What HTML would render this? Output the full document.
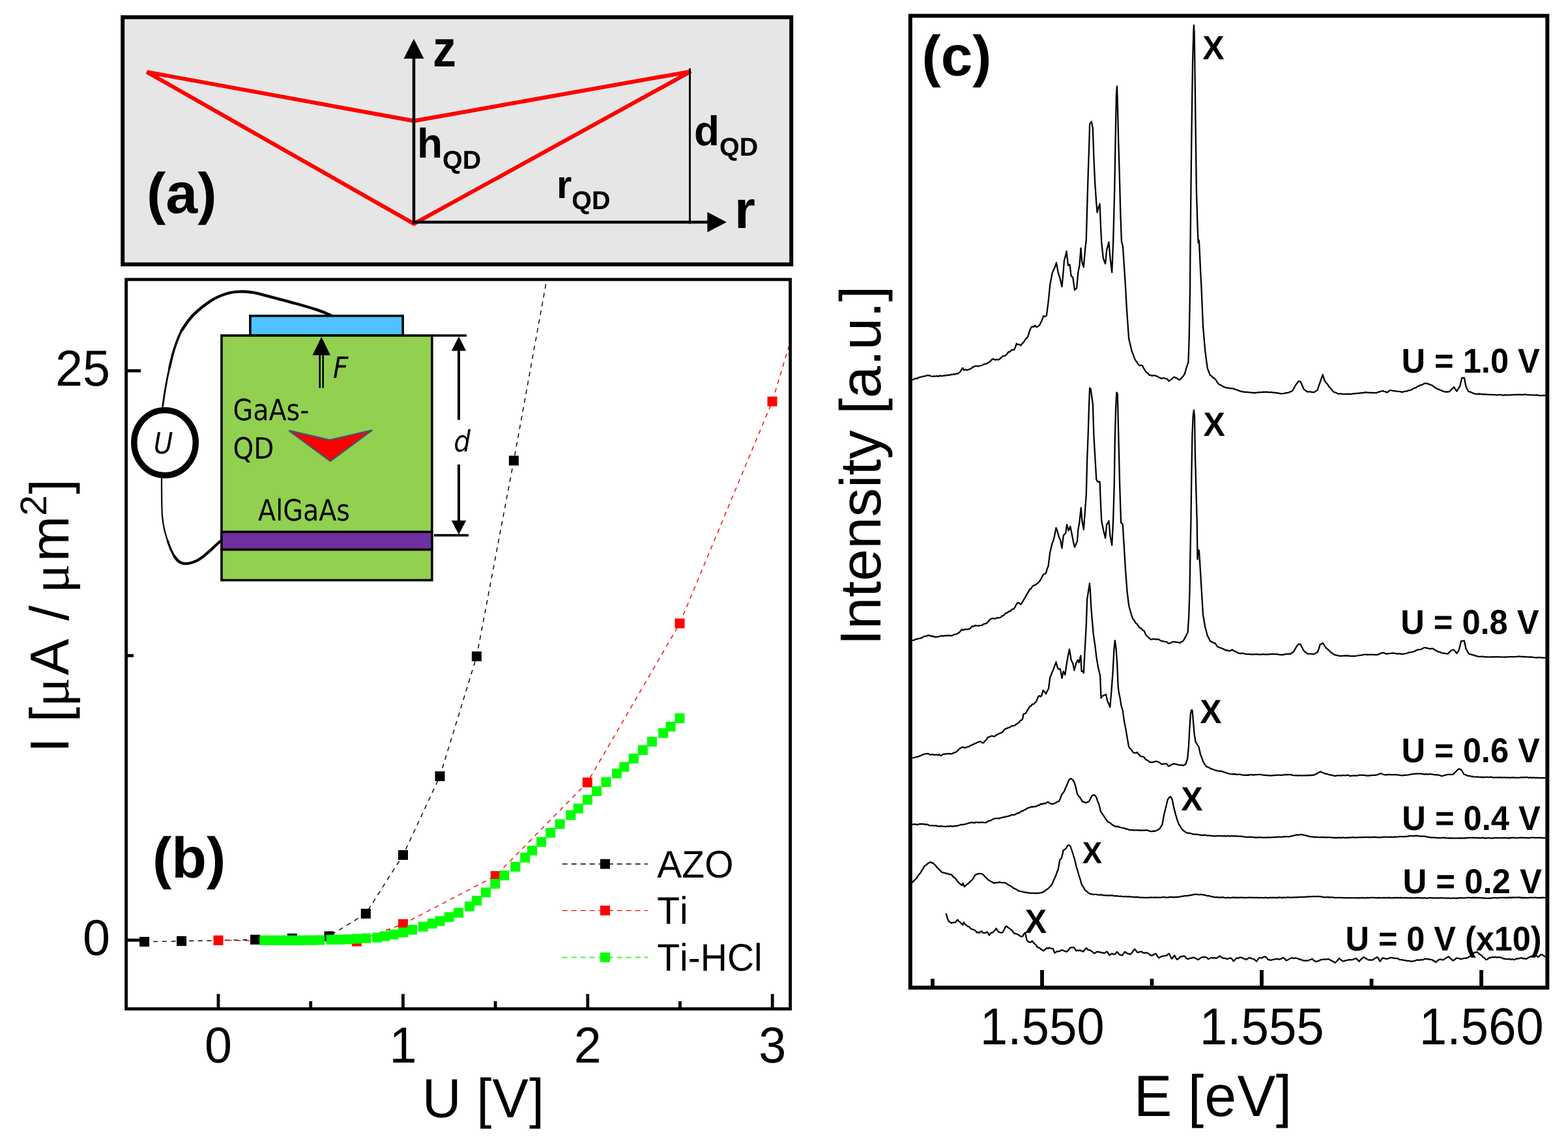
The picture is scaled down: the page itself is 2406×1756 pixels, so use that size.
<!DOCTYPE html>
<html lang="en">
<head>
<meta charset="utf-8">
<title>Figure: QD geometry, I-U characteristics and PL spectra</title>
<style>
html,body{margin:0;padding:0;background:#ffffff;}
body{width:2406px;height:1756px;overflow:hidden;}
svg{display:block;}
text{font-family:'Liberation Sans', sans-serif;fill:#000;font-kerning:none;text-rendering:geometricPrecision;}
.b{font-weight:bold;}
.i{font-style:italic;}
.cal{font-family:'DejaVu Sans Condensed', 'DejaVu Sans', 'Liberation Sans', sans-serif;}
.sp{fill:none;stroke:#000;stroke-width:2.3;stroke-linejoin:round;stroke-linecap:round;}
</style>
</head>
<body>
<svg width="2406" height="1756" viewBox="0 0 2406 1756">
<rect x="0" y="0" width="2406" height="1756" fill="#ffffff"/>
<g id="panel-a">
<rect x="188.2" y="26.4" width="1026" height="379.4" fill="#e6e6e6" stroke="#000" stroke-width="6"/>
<path d="M225.4 110.5 L635.2 185.6 L1060 109.7 L635.2 343.5 Z" fill="none" stroke="#ff0000" stroke-width="6.1" stroke-linejoin="miter"/>
<line x1="635" y1="343" x2="635" y2="88" stroke="#000" stroke-width="4.5"/>
<polygon points="635,59.5 619.5,90 650.5,90" fill="#000"/>
<line x1="633" y1="341" x2="1088" y2="341" stroke="#000" stroke-width="4.5"/>
<polygon points="1115,341 1085.4,325.4 1085.4,356.4" fill="#000"/>
<line x1="1058.5" y1="105" x2="1058.5" y2="343.5" stroke="#000" stroke-width="3"/>
<text class="b" x="664" y="101.5" font-size="79" textLength="36" lengthAdjust="spacingAndGlyphs">z</text>
<text class="b" x="1127" y="349.5" font-size="82">r</text>
<text class="b" x="225" y="327.3" font-size="88">(a)</text>
<text class="b" x="640" y="242.3" font-size="64">h<tspan font-size="39.5" dy="16.5">QD</tspan></text>
<text class="b" x="1065" y="222.5" font-size="64">d<tspan font-size="39.5" dy="16.5">QD</tspan></text>
<text class="b" x="854" y="304.4" font-size="60">r<tspan font-size="39.5" dy="16.5">QD</tspan></text>
</g>
<g id="panel-b">
<defs><clipPath id="clipb"><rect x="196" y="431.4" width="1014.3" height="1114.8"/></clipPath></defs>
<g clip-path="url(#clipb)" fill="none" stroke-width="1.45">
<path d="M221.6 1445.5 L278.6 1444.5 L335.0 1443.5 L391.5 1442.3 L448.3 1440.5 L505.0 1437.0 L561.3 1402.4 L618.5 1312.4 L675.0 1191.5 L731.4 1007.5 L788.4 707.0 L845.0 395.7" stroke="#000" stroke-dasharray="7 6.7"/>
<path d="M335.0 1443.4 L547.4 1445.0 L618.5 1418.4 L760.2 1344.6 L901.3 1201.0 L1043.0 956.9 L1185.0 616.2 L1326.0 148.0" stroke="#ff0000" stroke-dasharray="7 6.7"/>
</g>
<rect x="214.1" y="1438.0" width="15.0" height="15.0" fill="#000"/>
<rect x="271.1" y="1437.0" width="15.0" height="15.0" fill="#000"/>
<rect x="384.0" y="1434.8" width="15.0" height="15.0" fill="#000"/>
<rect x="440.8" y="1433.0" width="15.0" height="15.0" fill="#000"/>
<rect x="497.5" y="1429.5" width="15.0" height="15.0" fill="#000"/>
<rect x="553.8" y="1394.9" width="15.0" height="15.0" fill="#000"/>
<rect x="611.0" y="1304.9" width="15.0" height="15.0" fill="#000"/>
<rect x="667.5" y="1184.0" width="15.0" height="15.0" fill="#000"/>
<rect x="723.9" y="1000.0" width="15.0" height="15.0" fill="#000"/>
<rect x="780.9" y="699.5" width="15.0" height="15.0" fill="#000"/>
<rect x="327.5" y="1435.9" width="15.0" height="15.0" fill="#ff0000"/>
<rect x="539.9" y="1437.5" width="15.0" height="15.0" fill="#ff0000"/>
<rect x="611.0" y="1410.9" width="15.0" height="15.0" fill="#ff0000"/>
<rect x="752.7" y="1337.1" width="15.0" height="15.0" fill="#ff0000"/>
<rect x="893.8" y="1193.5" width="15.0" height="15.0" fill="#ff0000"/>
<rect x="1035.5" y="949.4" width="15.0" height="15.0" fill="#ff0000"/>
<rect x="1177.5" y="608.7" width="15.0" height="15.0" fill="#ff0000"/>
<rect x="398.3" y="1435.8" width="15.0" height="15.0" fill="#00ff00"/>
<rect x="412.5" y="1435.8" width="15.0" height="15.0" fill="#00ff00"/>
<rect x="426.7" y="1435.8" width="15.0" height="15.0" fill="#00ff00"/>
<rect x="440.8" y="1435.8" width="15.0" height="15.0" fill="#00ff00"/>
<rect x="455.0" y="1435.8" width="15.0" height="15.0" fill="#00ff00"/>
<rect x="469.2" y="1435.7" width="15.0" height="15.0" fill="#00ff00"/>
<rect x="483.3" y="1435.5" width="15.0" height="15.0" fill="#00ff00"/>
<rect x="500.5" y="1434.8" width="15.0" height="15.0" fill="#00ff00"/>
<rect x="513.8" y="1434.8" width="15.0" height="15.0" fill="#00ff00"/>
<rect x="527.1" y="1434.3" width="15.0" height="15.0" fill="#00ff00"/>
<rect x="540.4" y="1433.5" width="15.0" height="15.0" fill="#00ff00"/>
<rect x="554.3" y="1432.7" width="15.0" height="15.0" fill="#00ff00"/>
<rect x="571.1" y="1431.6" width="15.0" height="15.0" fill="#00ff00"/>
<rect x="583.0" y="1429.5" width="15.0" height="15.0" fill="#00ff00"/>
<rect x="596.4" y="1426.9" width="15.0" height="15.0" fill="#00ff00"/>
<rect x="611.0" y="1423.7" width="15.0" height="15.0" fill="#00ff00"/>
<rect x="625.1" y="1419.7" width="15.0" height="15.0" fill="#00ff00"/>
<rect x="641.6" y="1414.9" width="15.0" height="15.0" fill="#00ff00"/>
<rect x="655.7" y="1410.3" width="15.0" height="15.0" fill="#00ff00"/>
<rect x="667.5" y="1406.3" width="15.0" height="15.0" fill="#00ff00"/>
<rect x="681.6" y="1400.2" width="15.0" height="15.0" fill="#00ff00"/>
<rect x="696.2" y="1393.6" width="15.0" height="15.0" fill="#00ff00"/>
<rect x="713.0" y="1383.7" width="15.0" height="15.0" fill="#00ff00"/>
<rect x="724.2" y="1374.9" width="15.0" height="15.0" fill="#00ff00"/>
<rect x="738.0" y="1362.4" width="15.0" height="15.0" fill="#00ff00"/>
<rect x="752.2" y="1349.1" width="15.0" height="15.0" fill="#00ff00"/>
<rect x="766.3" y="1336.3" width="15.0" height="15.0" fill="#00ff00"/>
<rect x="783.3" y="1323.0" width="15.0" height="15.0" fill="#00ff00"/>
<rect x="798.2" y="1308.9" width="15.0" height="15.0" fill="#00ff00"/>
<rect x="809.0" y="1298.2" width="15.0" height="15.0" fill="#00ff00"/>
<rect x="823.1" y="1284.9" width="15.0" height="15.0" fill="#00ff00"/>
<rect x="837.2" y="1270.8" width="15.0" height="15.0" fill="#00ff00"/>
<rect x="851.6" y="1257.5" width="15.0" height="15.0" fill="#00ff00"/>
<rect x="868.4" y="1243.6" width="15.0" height="15.0" fill="#00ff00"/>
<rect x="879.9" y="1233.5" width="15.0" height="15.0" fill="#00ff00"/>
<rect x="894.0" y="1220.2" width="15.0" height="15.0" fill="#00ff00"/>
<rect x="908.1" y="1206.9" width="15.0" height="15.0" fill="#00ff00"/>
<rect x="922.5" y="1193.0" width="15.0" height="15.0" fill="#00ff00"/>
<rect x="939.0" y="1179.7" width="15.0" height="15.0" fill="#00ff00"/>
<rect x="950.4" y="1169.6" width="15.0" height="15.0" fill="#00ff00"/>
<rect x="964.8" y="1156.8" width="15.0" height="15.0" fill="#00ff00"/>
<rect x="978.9" y="1143.8" width="15.0" height="15.0" fill="#00ff00"/>
<rect x="993.0" y="1131.0" width="15.0" height="15.0" fill="#00ff00"/>
<rect x="1010.1" y="1117.7" width="15.0" height="15.0" fill="#00ff00"/>
<rect x="1021.5" y="1107.8" width="15.0" height="15.0" fill="#00ff00"/>
<rect x="1035.4" y="1095.0" width="15.0" height="15.0" fill="#00ff00"/>
<rect x="193.6" y="429" width="1019" height="1119.6" fill="none" stroke="#000" stroke-width="4.8"/>
<line x1="335.0" y1="1547" x2="335.0" y2="1525.7" stroke="#000" stroke-width="4.8"/>
<line x1="618.4" y1="1547" x2="618.4" y2="1525.7" stroke="#000" stroke-width="4.8"/>
<line x1="901.8" y1="1547" x2="901.8" y2="1525.7" stroke="#000" stroke-width="4.8"/>
<line x1="1185.2" y1="1547" x2="1185.2" y2="1525.7" stroke="#000" stroke-width="4.8"/>
<line x1="476.7" y1="1547" x2="476.7" y2="1536.8" stroke="#000" stroke-width="4.8"/>
<line x1="760.1" y1="1547" x2="760.1" y2="1536.8" stroke="#000" stroke-width="4.8"/>
<line x1="1043.5" y1="1547" x2="1043.5" y2="1536.8" stroke="#000" stroke-width="4.8"/>
<line x1="195" y1="569.1" x2="216" y2="569.1" stroke="#000" stroke-width="4.8"/>
<line x1="195" y1="1443.1" x2="216" y2="1443.1" stroke="#000" stroke-width="4.8"/>
<line x1="195" y1="1006.3" x2="205" y2="1006.3" stroke="#000" stroke-width="4.8"/>
<text transform="translate(335.00 1630.60) scale(1 1.0300)" font-size="75.5" text-anchor="middle">0</text>
<text transform="translate(618.40 1630.60) scale(1 1.0300)" font-size="75.5" text-anchor="middle">1</text>
<text transform="translate(901.80 1630.60) scale(1 1.0300)" font-size="75.5" text-anchor="middle">2</text>
<text transform="translate(1185.20 1630.60) scale(1 1.0300)" font-size="75.5" text-anchor="middle">3</text>
<text transform="translate(168.90 592.30) scale(1 1.0300)" font-size="75.5" text-anchor="end">25</text>
<text transform="translate(168.90 1466.10) scale(1 1.0300)" font-size="75.5" text-anchor="end">0</text>
<text transform="translate(0 1714.8) scale(1 1.02)" x="647.7 707.6 731.2 755.6 811.9" y="0" font-size="83">U [V]</text>
<text transform="translate(105.2 1155.2) rotate(-90)" font-size="84" x="0 23.4 46.7 70.2 118.6 174.6 202.5 225.9 244.8 293.2 363.4 396.7" y="0">I [<tspan style="font-family:'Liberation Serif', 'DejaVu Serif', serif">μ</tspan>A / <tspan style="font-family:'Liberation Serif', 'DejaVu Serif', serif">μ</tspan>m<tspan dy="-33.8" font-size="57">2</tspan><tspan dy="33.8">]</tspan></text>
<text class="b" x="234" y="1346.5" font-size="88">(b)</text>
<line x1="862.7" y1="1326.2" x2="994" y2="1326.2" stroke="#000" stroke-width="1.45" stroke-dasharray="8 6"/>
<rect x="921.0" y="1318.7" width="15.0" height="15.0" fill="#000"/>
<text transform="translate(1008.30 1346.50) scale(1 1.0350)" font-size="57">AZO</text>
<line x1="862.7" y1="1397.6" x2="994" y2="1397.6" stroke="#ff0000" stroke-width="1.45" stroke-dasharray="8 6"/>
<rect x="921.0" y="1390.1" width="15.0" height="15.0" fill="#ff0000"/>
<text transform="translate(1008.30 1417.90) scale(1 1.0350)" font-size="57">Ti</text>
<line x1="862.7" y1="1469.5" x2="994" y2="1469.5" stroke="#00ff00" stroke-width="1.45" stroke-dasharray="8 6"/>
<rect x="921.0" y="1462.0" width="15.0" height="15.0" fill="#00ff00"/>
<text transform="translate(1008.30 1489.80) scale(1 1.0350)" font-size="57">Ti-HCl</text>
<g id="inset">
<path d="M249.0 628.0 C249.8 622.4 252.3 604.8 254.1 594.3 C255.9 583.8 257.7 575.0 259.9 565.3 C262.1 555.6 266.0 541.1 267.2 536.2" fill="none" stroke="#000" stroke-width="2.8" stroke-linecap="round"/>
<path d="M259.9 565.3 C261.1 560.4 264.0 545.9 267.2 536.2 C270.4 526.5 274.0 515.9 278.8 507.2 C283.6 498.5 293.3 487.8 296.2 483.9" fill="none" stroke="#000" stroke-width="3.6" stroke-linecap="round"/>
<path d="M278.8 507.2 C281.7 503.3 288.4 491.6 296.2 483.9 C303.9 476.1 316.6 466.3 325.3 460.7 C334.0 455.1 341.2 452.7 348.5 450.5 C355.8 448.3 362.1 447.8 368.9 447.6 C375.7 447.4 381.9 447.9 389.2 449.1 C396.4 450.3 401.3 452.0 412.4 454.9 C423.5 457.8 443.9 463.1 456.0 466.5 C468.1 469.9 476.6 472.4 485.1 475.2 C493.6 478.0 503.3 482.1 506.9 483.5" fill="none" stroke="#000" stroke-width="4.4" stroke-linecap="round"/>
<path d="M248.0 730.0 C248.0 735.0 247.9 749.9 248.1 760.0 C248.2 770.1 248.2 782.1 248.9 790.8 C249.6 799.5 250.6 805.5 252.0 812.0 C253.4 818.5 255.5 824.9 257.2 830.1 C258.9 835.3 261.2 840.9 262.0 843.0" fill="none" stroke="#000" stroke-width="2.2" stroke-linecap="round"/>
<path d="M257.2 830.1 C258.0 832.2 260.2 839.0 262.0 843.0 C263.8 847.0 265.8 851.2 267.8 854.3 C269.8 857.4 273.0 860.3 274.0 861.5" fill="none" stroke="#000" stroke-width="3.2" stroke-linecap="round"/>
<path d="M267.8 854.3 C268.8 855.5 271.7 859.7 274.0 861.5 C276.3 863.3 278.6 864.4 281.4 864.9 C284.2 865.4 287.5 865.2 291.0 864.5 C294.5 863.8 299.1 862.1 302.6 860.4 C306.1 858.6 309.0 856.3 312.0 854.0 C315.0 851.7 317.7 849.4 320.7 846.7 C323.7 844.0 326.8 841.0 330.0 838.0 C333.2 835.0 338.3 830.5 340.0 829.0" fill="none" stroke="#000" stroke-width="4.3" stroke-linecap="round"/>
<ellipse cx="253" cy="679.6" rx="47.3" ry="50" fill="#fff" stroke="#000" stroke-width="9.4"/>
<text class="cal i" x="250.5" y="695.5" font-size="45" text-anchor="middle">U</text>
<rect x="383.9" y="484.8" width="234.2" height="30" fill="#4fc3ff" stroke="#000" stroke-width="3.6"/>
<rect x="340" y="515" width="322.8" height="375.6" fill="#92d050" stroke="#000" stroke-width="3.6"/>
<rect x="340" y="816.4" width="322.8" height="27.2" fill="#7030a0" stroke="#000" stroke-width="3.6"/>
<polygon points="493.2,517 479.4,545.2 507,545.2" fill="#000"/>
<line x1="490.7" y1="544" x2="490.7" y2="595.7" stroke="#000" stroke-width="2.6"/>
<line x1="495.7" y1="544" x2="495.7" y2="595.7" stroke="#000" stroke-width="2.6"/>
<text class="cal i" x="511" y="579.5" font-size="45">F</text>
<polygon points="443.5,661 506,675.5 571,660.3 506.8,707.8" fill="#ff0000" stroke="#44546a" stroke-width="2.4" stroke-linejoin="miter"/>
<text class="cal" x="357.5" y="645" font-size="45" textLength="117" lengthAdjust="spacingAndGlyphs">GaAs-</text>
<text class="cal" x="357.5" y="703.5" font-size="45" textLength="63" lengthAdjust="spacingAndGlyphs">QD</text>
<text class="cal" x="396" y="798.5" font-size="45" textLength="141" lengthAdjust="spacingAndGlyphs">AlGaAs</text>
<line x1="662" y1="515" x2="716" y2="515" stroke="#000" stroke-width="3.6"/>
<line x1="666" y1="821.6" x2="719" y2="821.6" stroke="#000" stroke-width="3.6"/>
<line x1="704" y1="536" x2="704" y2="644.5" stroke="#000" stroke-width="4"/>
<line x1="704" y1="713" x2="704" y2="801" stroke="#000" stroke-width="4"/>
<polygon points="704,516.5 692.8,538.5 715.2,538.5" fill="#000"/>
<polygon points="704,820.5 692.8,799 715.2,799" fill="#000"/>
<text class="cal i" x="709" y="692.5" font-size="45" text-anchor="middle">d</text>
</g>
</g>
<g id="panel-c">
<defs><clipPath id="clipc"><rect x="1399.8" y="27.3" width="971.5" height="1485.7"/></clipPath></defs>
<g clip-path="url(#clipc)">
<path class="sp" d="M1400.0 583.0 L1402.4 582.1 L1404.8 580.8 L1407.2 581.0 L1409.6 579.5 L1412.0 579.0 L1414.2 578.4 L1416.4 577.7 L1418.7 577.7 L1420.9 576.7 L1423.1 576.2 L1425.3 576.3 L1427.1 576.7 L1428.8 577.5 L1430.6 577.9 L1433.0 577.3 L1435.3 577.6 L1437.7 577.2 L1440.1 577.8 L1442.4 576.4 L1444.8 577.5 L1447.2 576.5 L1449.5 576.5 L1451.9 576.3 L1454.1 575.5 L1456.3 576.1 L1458.6 575.0 L1460.8 575.0 L1463.0 574.3 L1465.2 574.7 L1467.4 573.5 L1469.7 573.5 L1471.9 571.8 L1473.7 570.2 L1475.4 567.4 L1477.2 564.6 L1479.1 568.3 L1481.6 567.1 L1484.0 568.2 L1486.5 567.0 L1488.5 566.6 L1490.5 565.5 L1492.5 563.4 L1494.5 563.0 L1496.7 561.8 L1498.9 561.9 L1501.2 562.3 L1503.4 561.3 L1505.6 561.2 L1507.8 560.3 L1509.8 559.0 L1511.8 558.7 L1513.8 558.3 L1515.8 557.1 L1518.0 555.8 L1520.3 553.8 L1522.5 551.3 L1524.8 551.0 L1527.2 552.6 L1529.5 551.5 L1531.8 552.3 L1533.6 551.5 L1535.3 549.6 L1537.1 548.1 L1539.3 546.4 L1541.6 546.3 L1543.8 545.1 L1545.8 542.5 L1547.8 539.8 L1549.8 540.2 L1551.8 537.4 L1553.8 537.1 L1555.8 537.2 L1557.8 533.5 L1559.8 527.3 L1562.0 529.2 L1564.2 528.5 L1566.4 530.5 L1568.2 527.6 L1569.9 526.1 L1571.7 523.8 L1573.5 520.7 L1575.3 518.9 L1577.1 517.2 L1579.7 508.7 L1581.7 503.5 L1583.7 501.2 L1586.0 501.8 L1588.3 499.6 L1590.7 502.4 L1593.0 500.7 L1595.0 499.3 L1597.0 495.3 L1599.0 491.2 L1601.0 485.2 L1603.4 485.8 L1605.8 484.7 L1608.5 463.9 L1611.2 437.3 L1614.4 420.0 L1616.1 415.6 L1617.8 412.0 L1619.4 408.2 L1621.0 403.2 L1623.7 418.6 L1626.3 426.6 L1629.5 439.9 L1631.7 416.0 L1633.0 399.5 L1634.8 393.4 L1636.5 385.6 L1638.9 407.5 L1641.5 406.1 L1643.6 423.4 L1646.3 426.1 L1649.0 445.3 L1650.6 443.6 L1652.2 442.1 L1654.3 418.1 L1656.4 407.5 L1658.6 380.8 L1660.2 402.1 L1662.8 410.1 L1665.0 383.5 L1666.8 367.5 L1668.1 319.6 L1669.7 266.3 L1671.1 226.4 L1672.1 190.4 L1674.8 186.4 L1676.9 197.1 L1678.3 239.7 L1680.1 279.6 L1682.3 311.6 L1683.6 326.2 L1685.6 318.1 L1687.6 312.9 L1688.9 346.2 L1690.3 372.8 L1692.9 396.8 L1696.1 404.8 L1698.2 383.5 L1699.8 377.9 L1701.4 371.5 L1703.6 396.8 L1706.2 418.1 L1708.1 372.8 L1710.2 292.9 L1711.6 213.0 L1712.9 146.5 L1714.0 132.4 L1715.0 165.1 L1716.1 213.0 L1717.7 266.3 L1719.5 332.9 L1720.9 370.2 L1723.0 378.2 L1724.9 407.5 L1727.0 439.9 L1728.9 474.6 L1732.1 519.8 L1736.9 539.8 L1738.7 543.8 L1740.4 548.9 L1742.2 553.1 L1744.4 555.6 L1746.6 559.3 L1748.8 561.1 L1750.8 560.6 L1752.8 561.1 L1754.6 564.7 L1756.4 567.6 L1758.2 570.4 L1760.0 572.3 L1761.7 573.4 L1763.5 575.8 L1765.6 575.6 L1767.7 577.0 L1769.9 576.2 L1772.0 576.4 L1774.1 577.1 L1776.1 577.8 L1778.1 579.2 L1780.1 580.1 L1782.1 581.1 L1784.1 580.4 L1786.1 580.4 L1788.1 581.1 L1790.1 581.1 L1791.8 582.7 L1793.6 585.1 L1796.0 583.2 L1798.4 581.4 L1800.8 579.0 L1802.6 579.0 L1804.3 580.1 L1806.1 580.6 L1807.7 581.8 L1809.3 583.2 L1811.7 581.5 L1814.1 579.0 L1816.1 576.7 L1818.1 573.1 L1820.7 563.8 L1823.4 555.8 L1824.7 519.8 L1826.1 439.9 L1826.3 400.0 L1827.4 292.9 L1828.7 186.4 L1830.1 93.2 L1831.4 47.9 L1831.9 38.6 L1832.7 53.3 L1833.8 133.2 L1834.9 221.0 L1835.9 292.9 L1837.5 346.2 L1838.6 372.8 L1839.9 368.8 L1840.7 386.2 L1842.1 415.4 L1843.4 439.9 L1846.0 501.2 L1849.2 538.5 L1852.7 565.1 L1854.7 570.3 L1856.7 575.8 L1858.9 577.0 L1861.1 579.5 L1863.3 580.6 L1865.5 583.0 L1867.7 586.5 L1869.9 589.7 L1872.0 590.6 L1874.2 591.5 L1876.3 593.1 L1878.5 594.0 L1880.6 595.0 L1882.8 595.1 L1885.0 595.6 L1887.2 596.2 L1889.5 596.2 L1891.7 596.3 L1893.9 597.1 L1896.0 597.9 L1898.1 598.4 L1900.3 599.6 L1902.4 600.0 L1904.5 601.1 L1906.9 601.0 L1909.2 601.9 L1911.6 601.6 L1914.0 601.8 L1916.3 602.2 L1918.7 602.5 L1921.1 602.7 L1923.4 603.0 L1925.8 603.0 L1928.0 602.6 L1930.3 602.5 L1932.5 602.2 L1934.7 602.1 L1937.0 602.0 L1939.2 601.7 L1941.5 601.9 L1943.7 601.6 L1946.0 601.9 L1948.3 602.3 L1950.6 601.9 L1952.8 602.6 L1955.1 602.5 L1957.2 603.0 L1959.4 603.1 L1961.5 603.5 L1963.7 603.8 L1965.8 604.3 L1967.9 604.2 L1970.0 603.8 L1972.2 603.3 L1974.3 602.9 L1976.4 603.0 L1978.6 601.8 L1980.9 601.2 L1983.1 599.8 L1984.9 596.9 L1986.6 593.7 L1988.4 590.5 L1990.4 588.3 L1992.4 585.1 L1995.6 585.9 L1998.0 591.0 L2000.4 597.1 L2002.2 598.6 L2003.9 599.7 L2005.7 601.4 L2007.8 601.4 L2010.0 601.3 L2012.1 601.6 L2014.3 602.1 L2016.4 601.9 L2018.2 601.0 L2019.9 599.9 L2021.7 598.5 L2023.7 592.1 L2025.7 586.5 L2027.7 580.5 L2029.7 575.0 L2032.4 583.8 L2034.6 587.2 L2036.8 589.5 L2039.0 593.1 L2041.2 595.5 L2043.5 598.1 L2045.7 601.1 L2047.7 602.2 L2049.7 602.6 L2051.7 603.7 L2053.7 604.6 L2056.0 604.3 L2058.3 604.4 L2060.7 604.8 L2063.0 605.1 L2065.3 604.8 L2067.7 604.8 L2070.0 604.7 L2072.3 605.1 L2074.7 604.5 L2077.0 604.3 L2079.4 604.0 L2081.8 604.0 L2084.1 603.5 L2086.5 603.7 L2088.9 602.9 L2091.2 603.1 L2093.6 602.5 L2095.9 602.2 L2098.3 602.6 L2100.6 602.7 L2102.9 602.9 L2105.3 602.7 L2107.6 602.9 L2110.0 603.2 L2112.3 603.0 L2114.6 601.9 L2116.9 601.4 L2119.3 600.7 L2121.6 599.8 L2123.8 600.9 L2126.0 601.3 L2128.2 602.5 L2130.0 601.3 L2131.8 599.8 L2133.6 599.0 L2135.9 599.5 L2138.2 600.0 L2140.6 600.0 L2142.9 600.7 L2145.2 600.9 L2147.5 600.8 L2149.9 601.5 L2152.2 601.9 L2154.4 601.0 L2156.6 600.6 L2158.8 600.5 L2161.1 599.3 L2163.3 599.1 L2165.5 598.5 L2167.9 596.8 L2170.3 595.6 L2172.7 595.2 L2175.1 593.1 L2177.5 592.3 L2179.8 590.9 L2182.2 590.8 L2184.5 589.1 L2186.8 588.3 L2188.8 588.5 L2190.8 588.9 L2192.8 589.9 L2194.8 590.5 L2196.9 591.3 L2199.1 592.8 L2201.2 594.2 L2203.4 596.0 L2205.5 597.1 L2207.6 597.6 L2209.7 598.8 L2211.9 599.3 L2214.0 600.7 L2216.1 601.1 L2218.1 601.5 L2220.1 601.5 L2222.1 601.4 L2224.1 601.1 L2226.3 598.7 L2228.6 596.7 L2230.8 593.9 L2233.1 597.4 L2235.3 600.6 L2237.7 596.5 L2240.1 593.1 L2243.3 579.8 L2245.0 580.1 L2246.7 579.8 L2249.4 593.1 L2251.4 597.4 L2253.4 601.1 L2255.5 601.4 L2257.7 602.3 L2259.8 603.4 L2262.0 604.1 L2264.1 604.6 L2266.5 604.8 L2268.8 604.5 L2271.2 604.8 L2273.6 604.8 L2275.9 605.5 L2278.3 605.1 L2280.7 605.3 L2283.0 605.6 L2285.4 605.6 L2287.8 605.8 L2290.2 605.8 L2292.7 605.9 L2295.1 606.2 L2297.5 606.3 L2299.9 605.8 L2302.3 605.8 L2304.7 606.5 L2307.2 606.6 L2309.6 606.2 L2312.0 606.4 L2314.4 606.3 L2316.8 606.4 L2319.3 606.1 L2321.7 605.8 L2324.1 605.9 L2326.5 605.8 L2328.9 605.9 L2331.3 605.6 L2333.8 605.9 L2336.2 606.0 L2338.6 605.6 L2341.1 605.6 L2343.5 605.9 L2346.0 606.1 L2348.4 606.3 L2350.9 606.3 L2353.4 606.4 L2355.8 606.6 L2358.3 606.2 L2360.8 607.0 L2363.2 607.1 L2365.7 607.1 L2368.1 606.9 L2370.6 607.2"/>
<path class="sp" d="M1400.0 983.2 L1402.4 982.7 L1404.8 981.2 L1407.2 981.0 L1409.6 980.1 L1412.0 979.8 L1414.4 979.0 L1416.8 977.6 L1419.1 976.4 L1421.5 976.6 L1423.9 975.2 L1426.2 975.4 L1428.6 976.5 L1431.0 976.3 L1433.3 977.6 L1435.6 977.5 L1438.0 977.6 L1440.3 977.3 L1442.6 976.4 L1444.9 975.9 L1447.2 976.4 L1449.6 975.7 L1451.9 975.8 L1453.9 975.5 L1455.9 975.4 L1457.9 975.6 L1459.9 975.8 L1462.0 975.3 L1464.1 974.0 L1466.3 973.6 L1468.4 973.0 L1470.5 971.8 L1472.3 970.5 L1474.1 968.3 L1475.9 966.4 L1478.0 967.1 L1480.1 966.1 L1482.3 966.0 L1484.4 966.0 L1486.5 965.6 L1488.3 964.9 L1490.1 963.0 L1491.9 961.1 L1494.1 961.7 L1496.3 960.0 L1498.6 960.3 L1500.8 960.6 L1503.0 960.5 L1505.2 959.8 L1507.2 959.8 L1509.2 958.0 L1511.2 957.4 L1513.2 957.1 L1515.2 955.1 L1517.2 953.2 L1519.1 950.7 L1521.1 949.7 L1523.2 949.2 L1525.4 949.6 L1527.5 949.6 L1529.7 948.2 L1531.8 948.6 L1533.8 948.0 L1535.8 947.4 L1537.8 945.2 L1539.8 945.1 L1541.8 942.3 L1543.8 941.0 L1545.8 940.6 L1547.8 938.5 L1549.8 938.5 L1551.8 936.2 L1553.8 935.0 L1555.8 934.5 L1557.6 931.9 L1559.3 928.1 L1561.1 925.7 L1562.9 925.2 L1564.6 926.4 L1566.4 927.8 L1568.6 924.5 L1570.9 920.6 L1573.1 917.2 L1574.9 913.6 L1576.6 910.7 L1578.4 907.9 L1580.2 904.3 L1581.9 904.0 L1583.7 900.7 L1586.0 898.7 L1588.3 898.2 L1590.7 896.3 L1593.0 894.5 L1595.2 892.2 L1597.5 888.4 L1599.7 883.9 L1601.5 881.4 L1603.2 881.1 L1605.0 879.9 L1606.8 873.0 L1608.5 869.2 L1611.2 847.9 L1614.4 834.6 L1616.1 830.1 L1617.8 824.0 L1620.5 810.1 L1622.1 814.2 L1623.7 820.0 L1625.3 825.5 L1626.9 828.0 L1629.5 841.3 L1631.7 822.6 L1633.4 819.7 L1635.1 818.6 L1637.0 805.3 L1639.7 814.6 L1642.3 808.0 L1645.0 821.3 L1647.6 834.6 L1649.0 839.9 L1651.0 835.3 L1653.0 830.6 L1654.3 813.3 L1656.2 802.7 L1658.8 779.5 L1660.4 799.5 L1662.8 812.8 L1665.0 783.5 L1666.8 759.5 L1668.1 706.3 L1669.7 666.3 L1671.1 621.0 L1672.1 595.7 L1673.7 597.1 L1675.1 607.7 L1676.9 621.0 L1678.3 666.3 L1680.1 698.3 L1682.3 735.6 L1684.1 739.5 L1685.8 739.5 L1687.6 739.5 L1688.9 772.8 L1690.3 799.5 L1692.9 812.8 L1696.1 826.1 L1698.2 804.8 L1699.8 803.2 L1701.4 799.5 L1703.6 823.4 L1706.2 836.8 L1708.1 799.5 L1709.7 746.2 L1710.8 674.3 L1712.1 626.4 L1713.4 602.4 L1714.8 605.1 L1715.6 639.7 L1716.9 692.9 L1718.2 746.2 L1720.1 802.1 L1722.7 804.8 L1724.9 839.9 L1727.0 874.6 L1729.4 906.5 L1732.1 929.2 L1734.5 938.1 L1736.9 946.5 L1738.7 950.4 L1740.4 952.3 L1742.2 955.8 L1744.4 957.7 L1746.6 960.5 L1748.8 963.8 L1751.0 964.5 L1753.3 967.2 L1755.5 968.3 L1758.2 974.4 L1760.2 976.5 L1762.2 978.4 L1764.2 980.2 L1766.2 981.6 L1768.5 981.0 L1770.8 980.7 L1773.2 981.4 L1775.5 981.1 L1777.7 981.3 L1779.9 982.7 L1782.1 983.8 L1784.1 984.2 L1786.1 984.6 L1788.1 984.9 L1790.1 985.1 L1792.8 987.7 L1795.0 987.4 L1797.2 986.6 L1799.4 985.1 L1801.6 985.1 L1803.9 985.4 L1806.1 985.9 L1808.1 985.9 L1810.1 987.2 L1811.9 985.6 L1813.6 984.9 L1815.4 983.8 L1817.4 980.6 L1819.4 977.1 L1822.6 970.4 L1824.2 946.5 L1825.5 906.5 L1826.6 839.9 L1827.4 799.5 L1828.5 719.6 L1829.5 666.3 L1830.6 639.7 L1831.9 629.6 L1833.0 639.7 L1833.8 692.9 L1835.4 754.2 L1836.7 799.5 L1837.5 858.6 L1838.6 843.9 L1839.9 845.3 L1841.3 866.6 L1843.4 901.2 L1846.0 943.8 L1849.2 962.5 L1851.0 968.7 L1852.7 975.8 L1854.7 979.2 L1856.7 983.8 L1858.7 985.1 L1860.6 986.0 L1862.6 986.9 L1864.6 987.3 L1866.6 990.3 L1868.6 993.2 L1870.9 993.7 L1873.2 994.6 L1875.6 995.5 L1877.9 996.6 L1879.9 997.6 L1881.9 998.4 L1883.9 998.2 L1885.9 999.3 L1888.3 998.7 L1890.7 997.2 L1892.8 998.8 L1895.0 999.9 L1897.1 1000.6 L1899.2 1002.0 L1901.4 1002.8 L1903.6 1003.0 L1905.8 1002.7 L1908.1 1003.0 L1910.3 1003.6 L1912.5 1004.1 L1914.9 1004.2 L1917.2 1003.8 L1919.6 1004.6 L1922.0 1004.5 L1924.3 1004.4 L1926.7 1004.4 L1929.1 1004.2 L1931.4 1004.7 L1933.8 1004.6 L1936.2 1004.7 L1938.5 1004.1 L1940.9 1004.7 L1943.3 1004.3 L1945.6 1004.7 L1948.0 1004.1 L1950.4 1004.0 L1952.7 1003.9 L1955.1 1004.1 L1957.2 1004.2 L1959.4 1004.2 L1961.5 1004.5 L1963.7 1005.0 L1965.8 1005.2 L1968.0 1005.0 L1970.2 1004.8 L1972.4 1004.2 L1974.7 1003.9 L1976.9 1003.7 L1979.1 1003.8 L1980.9 1003.3 L1982.6 1001.7 L1984.4 1001.2 L1986.2 998.3 L1988.0 995.1 L1989.8 991.9 L1992.4 988.7 L1995.6 989.2 L1998.0 994.0 L2000.4 998.5 L2002.2 1000.5 L2003.9 1001.5 L2005.7 1003.3 L2007.8 1003.6 L2010.0 1003.6 L2012.1 1003.7 L2014.3 1003.9 L2016.4 1004.1 L2018.2 1002.9 L2019.9 1001.8 L2021.7 1001.2 L2023.7 995.6 L2025.7 989.2 L2027.7 988.3 L2029.7 987.1 L2031.7 989.8 L2033.7 993.2 L2035.9 995.7 L2038.2 997.3 L2040.4 999.8 L2042.6 1001.5 L2044.8 1003.1 L2047.0 1004.6 L2049.2 1005.5 L2051.5 1005.8 L2053.7 1006.5 L2056.1 1006.9 L2058.5 1006.8 L2061.0 1006.6 L2063.4 1006.4 L2065.8 1006.5 L2068.2 1006.5 L2070.6 1006.8 L2073.0 1007.1 L2075.5 1007.1 L2077.9 1007.1 L2080.3 1007.0 L2082.5 1006.5 L2084.7 1006.0 L2086.9 1006.0 L2089.2 1005.5 L2091.4 1005.1 L2093.6 1004.6 L2095.9 1004.7 L2098.3 1005.0 L2100.6 1004.9 L2102.9 1004.7 L2105.3 1004.9 L2107.6 1004.9 L2110.0 1005.0 L2112.3 1005.2 L2114.1 1004.9 L2115.8 1004.1 L2117.6 1003.3 L2119.6 1002.6 L2121.6 1001.7 L2123.8 1002.4 L2126.0 1003.1 L2128.2 1003.8 L2130.2 1003.1 L2132.2 1003.1 L2134.2 1002.9 L2136.2 1002.5 L2138.5 1002.6 L2140.8 1002.9 L2143.1 1003.5 L2145.3 1003.6 L2147.6 1003.1 L2149.9 1004.0 L2152.2 1003.8 L2154.4 1003.6 L2156.6 1003.2 L2158.8 1002.8 L2161.1 1001.8 L2163.3 1001.3 L2165.5 1001.2 L2167.9 1000.5 L2170.3 999.9 L2172.7 998.4 L2175.1 997.5 L2177.5 997.2 L2179.8 996.9 L2182.2 996.0 L2184.5 994.5 L2186.8 994.0 L2189.0 994.9 L2191.3 995.0 L2193.5 995.8 L2195.5 995.9 L2197.5 995.3 L2199.5 995.9 L2201.5 997.7 L2203.5 998.4 L2205.5 999.8 L2207.5 1000.6 L2209.5 1000.7 L2211.5 1002.0 L2213.5 1002.5 L2215.5 1002.5 L2217.4 1003.1 L2219.4 1003.1 L2221.4 1003.8 L2223.2 1001.9 L2225.0 999.9 L2226.8 998.5 L2228.8 997.7 L2230.8 997.2 L2233.1 1000.1 L2235.3 1003.0 L2237.1 1000.2 L2238.8 997.2 L2242.0 983.9 L2244.3 983.8 L2246.7 983.3 L2249.4 995.8 L2251.4 999.4 L2253.4 1003.0 L2255.2 1004.0 L2256.9 1004.4 L2258.7 1005.2 L2260.8 1005.4 L2263.0 1006.4 L2265.1 1006.6 L2267.3 1007.6 L2269.4 1007.8 L2271.7 1007.8 L2274.0 1007.6 L2276.3 1007.9 L2278.5 1008.5 L2280.8 1008.2 L2283.1 1008.6 L2285.4 1008.4 L2287.8 1008.3 L2290.2 1008.5 L2292.7 1008.1 L2295.1 1008.3 L2297.5 1008.2 L2299.9 1008.4 L2302.3 1008.4 L2304.7 1008.6 L2307.2 1008.7 L2309.6 1008.4 L2312.0 1008.6 L2314.4 1008.3 L2316.7 1008.1 L2319.1 1008.1 L2321.5 1008.2 L2323.8 1008.4 L2326.2 1007.8 L2328.6 1007.9 L2330.9 1007.5 L2333.3 1007.8 L2335.6 1008.0 L2338.0 1008.0 L2340.3 1008.1 L2342.6 1008.3 L2344.9 1008.3 L2347.2 1008.6 L2349.6 1008.5 L2351.9 1008.9 L2354.2 1009.2 L2356.6 1009.4 L2358.9 1009.5 L2361.2 1009.2 L2363.6 1009.1 L2365.9 1009.7 L2368.3 1009.6 L2370.6 1009.7"/>
<path class="sp" d="M1400.0 1163.5 L1402.2 1163.0 L1404.4 1162.5 L1406.6 1161.7 L1408.9 1161.5 L1411.2 1160.4 L1413.5 1159.5 L1415.7 1158.4 L1418.0 1157.6 L1420.3 1157.1 L1422.6 1156.9 L1424.7 1156.8 L1426.9 1158.4 L1429.0 1158.3 L1431.2 1157.8 L1433.3 1159.0 L1435.3 1158.5 L1437.3 1158.5 L1439.3 1158.9 L1441.3 1158.2 L1443.9 1160.1 L1445.9 1158.6 L1447.9 1157.4 L1450.0 1157.5 L1452.2 1157.0 L1454.3 1157.1 L1456.5 1156.7 L1458.6 1157.4 L1460.9 1156.9 L1463.2 1155.5 L1465.6 1155.0 L1467.9 1153.7 L1469.9 1152.1 L1471.9 1149.6 L1473.9 1148.3 L1475.9 1147.0 L1478.1 1146.8 L1480.3 1147.9 L1482.5 1147.5 L1484.7 1146.1 L1487.0 1146.1 L1489.2 1144.1 L1491.3 1143.8 L1493.4 1142.6 L1495.6 1141.4 L1497.7 1140.8 L1499.8 1139.5 L1501.6 1138.9 L1503.4 1138.2 L1505.2 1138.7 L1507.2 1140.2 L1509.2 1140.3 L1511.4 1137.3 L1513.6 1135.5 L1515.8 1131.6 L1517.6 1131.5 L1519.3 1130.5 L1521.1 1129.7 L1522.9 1129.7 L1524.7 1130.5 L1526.5 1130.2 L1528.5 1128.4 L1530.5 1127.5 L1532.5 1126.2 L1534.5 1125.4 L1536.6 1124.7 L1538.7 1123.6 L1540.9 1120.1 L1543.0 1118.5 L1545.1 1118.2 L1547.1 1116.8 L1549.1 1116.7 L1551.1 1115.0 L1553.1 1114.2 L1555.2 1113.8 L1557.4 1113.3 L1559.5 1111.5 L1561.7 1110.4 L1563.8 1108.9 L1565.6 1106.1 L1567.3 1105.6 L1569.1 1103.6 L1570.4 1096.1 L1572.4 1095.6 L1574.4 1094.3 L1576.4 1090.0 L1578.4 1087.6 L1580.2 1083.9 L1581.9 1083.8 L1583.7 1081.0 L1585.9 1081.0 L1588.2 1078.4 L1590.4 1076.4 L1593.0 1069.5 L1594.8 1067.9 L1596.6 1069.4 L1598.4 1067.6 L1600.5 1059.7 L1602.8 1061.8 L1605.0 1065.0 L1607.0 1060.5 L1609.0 1057.0 L1611.2 1039.7 L1612.8 1036.7 L1614.4 1031.7 L1616.1 1028.6 L1617.8 1023.7 L1620.5 1016.2 L1622.1 1022.7 L1623.7 1026.4 L1625.3 1027.6 L1626.9 1026.4 L1629.5 1041.0 L1631.7 1030.4 L1634.3 1035.7 L1637.0 1017.0 L1639.7 1002.4 L1641.0 996.3 L1643.6 1013.0 L1646.3 1018.4 L1648.4 1029.0 L1651.1 1018.4 L1653.8 1013.0 L1655.6 1017.0 L1658.3 1006.4 L1659.6 1030.4 L1661.2 1030.1 L1662.8 1033.0 L1665.0 991.7 L1666.8 959.8 L1668.1 919.8 L1670.3 906.5 L1671.9 895.3 L1672.9 906.5 L1674.3 933.2 L1676.1 954.5 L1677.7 973.1 L1680.4 991.7 L1682.3 1007.7 L1684.9 1023.7 L1688.1 1037.0 L1689.5 1071.6 L1691.2 1068.7 L1692.9 1067.6 L1694.9 1067.0 L1696.9 1065.8 L1699.6 1077.0 L1701.4 1080.4 L1703.3 1085.5 L1705.4 1061.0 L1707.6 1031.7 L1709.4 997.1 L1710.8 983.2 L1712.4 994.4 L1714.2 1018.4 L1715.6 1053.0 L1716.9 1063.6 L1718.7 1071.6 L1720.3 1082.3 L1722.7 1090.3 L1724.9 1106.3 L1727.5 1119.6 L1730.2 1135.6 L1732.1 1146.2 L1733.8 1148.8 L1735.5 1150.2 L1737.5 1153.2 L1739.5 1155.5 L1741.3 1155.7 L1743.0 1155.7 L1744.8 1154.7 L1746.8 1157.4 L1748.8 1159.5 L1751.0 1161.1 L1753.3 1161.3 L1755.5 1162.2 L1758.2 1166.2 L1760.2 1166.7 L1762.2 1168.2 L1764.2 1169.8 L1766.2 1170.2 L1768.5 1170.0 L1770.8 1169.3 L1773.2 1168.6 L1775.5 1168.8 L1777.7 1169.7 L1779.9 1171.0 L1782.1 1172.8 L1784.1 1172.9 L1786.1 1172.3 L1788.1 1172.3 L1790.1 1172.3 L1792.8 1176.0 L1794.8 1175.6 L1796.8 1174.0 L1798.8 1173.4 L1800.8 1172.3 L1802.8 1172.6 L1804.8 1173.1 L1806.8 1173.6 L1808.8 1174.2 L1811.0 1174.4 L1813.2 1174.3 L1815.4 1175.0 L1817.4 1174.1 L1819.4 1172.8 L1822.1 1164.8 L1823.9 1146.2 L1825.3 1119.6 L1826.9 1095.6 L1828.2 1089.7 L1829.5 1090.3 L1830.9 1106.3 L1832.7 1127.6 L1834.6 1138.7 L1837.0 1142.6 L1839.4 1146.2 L1842.1 1158.2 L1844.0 1162.9 L1846.0 1168.8 L1847.8 1172.1 L1849.6 1174.7 L1851.4 1176.8 L1853.4 1177.4 L1855.4 1178.4 L1857.4 1179.7 L1859.4 1180.3 L1862.0 1181.3 L1864.6 1182.3 L1866.7 1182.7 L1868.8 1183.3 L1871.0 1183.6 L1873.1 1183.5 L1875.2 1184.1 L1877.4 1184.8 L1879.7 1185.7 L1881.9 1186.4 L1884.1 1187.1 L1886.4 1187.7 L1888.6 1188.1 L1891.0 1188.4 L1893.4 1188.0 L1895.8 1188.5 L1898.2 1188.9 L1900.5 1188.7 L1902.9 1188.7 L1905.3 1189.3 L1907.7 1189.6 L1910.1 1189.9 L1912.5 1189.7 L1914.8 1189.8 L1917.2 1189.5 L1919.5 1189.0 L1921.8 1189.4 L1924.2 1189.5 L1926.5 1189.1 L1928.9 1189.1 L1931.2 1188.9 L1933.5 1188.8 L1935.8 1189.2 L1938.2 1189.6 L1940.5 1189.9 L1942.8 1189.8 L1945.2 1190.4 L1947.5 1190.4 L1949.8 1190.5 L1952.2 1190.4 L1954.6 1190.0 L1957.1 1190.2 L1959.5 1189.6 L1961.9 1189.7 L1964.3 1189.9 L1966.7 1189.8 L1969.1 1189.7 L1971.6 1188.9 L1974.0 1189.4 L1976.4 1188.9 L1978.7 1189.1 L1981.0 1189.1 L1983.3 1189.9 L1985.5 1190.2 L1987.8 1190.4 L1990.1 1190.2 L1992.4 1190.5 L1994.8 1190.2 L1997.2 1190.6 L1999.6 1190.4 L2002.0 1190.4 L2004.4 1190.2 L2006.8 1190.3 L2009.2 1190.0 L2011.6 1190.0 L2014.0 1189.9 L2016.4 1189.5 L2018.2 1188.5 L2019.9 1188.1 L2021.7 1186.8 L2024.1 1185.5 L2026.5 1184.4 L2028.5 1185.7 L2030.4 1186.2 L2032.4 1187.1 L2034.4 1187.8 L2036.4 1187.9 L2038.4 1188.8 L2040.4 1189.5 L2042.4 1189.7 L2044.4 1189.9 L2046.3 1190.6 L2048.3 1191.1 L2050.6 1190.7 L2053.0 1190.4 L2055.3 1190.4 L2057.7 1190.7 L2060.0 1190.0 L2062.3 1190.2 L2064.7 1190.3 L2067.0 1189.7 L2068.8 1189.8 L2070.5 1190.8 L2072.3 1191.1 L2074.6 1190.6 L2076.9 1190.5 L2079.2 1190.3 L2081.4 1190.6 L2083.7 1190.4 L2086.0 1189.6 L2088.3 1189.7 L2090.4 1190.1 L2092.5 1189.7 L2094.7 1190.1 L2096.8 1190.7 L2098.9 1190.5 L2101.1 1190.6 L2103.4 1189.9 L2105.6 1190.1 L2107.8 1189.8 L2110.1 1189.8 L2112.3 1189.5 L2114.5 1189.0 L2116.7 1187.9 L2118.9 1187.1 L2121.1 1188.3 L2123.4 1189.0 L2125.6 1189.5 L2127.9 1189.1 L2130.2 1189.0 L2132.5 1189.0 L2134.7 1189.2 L2137.0 1189.2 L2139.3 1189.3 L2141.6 1188.9 L2143.7 1189.4 L2145.8 1189.6 L2148.0 1189.8 L2150.1 1190.1 L2152.2 1190.3 L2154.4 1189.9 L2156.6 1189.8 L2158.8 1189.6 L2161.1 1189.3 L2163.3 1188.9 L2165.5 1188.4 L2167.6 1188.4 L2169.8 1187.7 L2171.9 1187.8 L2174.1 1187.7 L2176.2 1187.6 L2178.3 1187.6 L2180.4 1187.7 L2182.6 1188.0 L2184.7 1188.5 L2186.8 1188.4 L2188.9 1188.2 L2191.1 1188.8 L2193.2 1188.0 L2195.4 1188.3 L2197.5 1188.4 L2199.8 1189.0 L2202.1 1189.4 L2204.4 1189.2 L2206.6 1189.6 L2208.9 1190.0 L2211.2 1190.8 L2213.5 1191.1 L2215.5 1190.2 L2217.4 1189.9 L2219.4 1189.3 L2221.4 1188.9 L2223.4 1188.6 L2225.4 1188.8 L2227.4 1188.8 L2229.4 1188.9 L2231.2 1187.2 L2233.0 1185.2 L2234.8 1183.6 L2236.8 1181.4 L2238.8 1180.1 L2240.8 1181.0 L2242.8 1182.3 L2244.8 1185.8 L2246.7 1188.9 L2248.9 1189.2 L2251.2 1190.4 L2253.4 1191.1 L2255.5 1191.0 L2257.7 1192.0 L2259.8 1191.8 L2262.0 1192.3 L2264.1 1192.6 L2266.5 1192.3 L2268.8 1192.7 L2271.2 1192.9 L2273.6 1193.0 L2275.9 1193.0 L2278.3 1193.1 L2280.7 1192.5 L2283.0 1193.1 L2285.4 1192.9 L2287.8 1192.6 L2290.2 1193.3 L2292.7 1193.5 L2295.1 1193.3 L2297.5 1193.3 L2299.9 1193.5 L2302.3 1193.1 L2304.7 1193.7 L2307.2 1193.3 L2309.6 1193.4 L2312.0 1193.7 L2314.4 1193.5 L2316.8 1193.8 L2319.3 1193.5 L2321.7 1193.5 L2324.1 1193.6 L2326.5 1193.7 L2328.9 1193.8 L2331.3 1193.7 L2333.8 1193.3 L2336.2 1193.1 L2338.6 1193.4 L2341.1 1193.2 L2343.5 1193.2 L2346.0 1193.8 L2348.4 1193.3 L2350.9 1193.9 L2353.4 1193.4 L2355.8 1194.0 L2358.3 1193.7 L2360.8 1194.1 L2363.2 1194.2 L2365.7 1194.2 L2368.1 1193.8 L2370.6 1194.2"/>
<path class="sp" d="M1400.0 1265.7 L1402.5 1265.0 L1404.9 1265.3 L1407.4 1265.8 L1409.9 1265.1 L1412.4 1264.7 L1414.8 1264.8 L1417.3 1264.7 L1419.4 1265.6 L1421.5 1265.3 L1423.7 1265.7 L1425.8 1267.1 L1427.9 1267.1 L1430.2 1267.2 L1432.6 1267.4 L1434.9 1267.4 L1437.2 1267.5 L1439.6 1268.3 L1441.9 1268.4 L1444.3 1268.0 L1446.6 1268.4 L1449.0 1268.6 L1451.3 1268.8 L1453.7 1268.1 L1456.1 1268.7 L1458.4 1267.7 L1460.8 1268.5 L1463.2 1268.4 L1465.5 1267.7 L1467.9 1267.9 L1470.2 1267.1 L1472.6 1266.5 L1474.9 1265.7 L1477.2 1266.0 L1479.5 1265.3 L1481.8 1264.8 L1484.2 1264.1 L1486.5 1263.3 L1488.7 1262.9 L1490.9 1262.5 L1493.2 1262.6 L1495.4 1263.1 L1497.6 1262.0 L1499.8 1262.5 L1502.0 1262.5 L1504.3 1262.3 L1506.5 1262.2 L1508.7 1262.3 L1511.0 1262.6 L1513.2 1262.5 L1515.3 1261.0 L1517.4 1259.9 L1519.6 1259.8 L1521.7 1258.6 L1523.8 1257.2 L1526.1 1256.6 L1528.4 1256.1 L1530.7 1256.2 L1532.9 1256.3 L1535.2 1255.7 L1537.5 1254.8 L1539.8 1254.5 L1541.9 1254.2 L1544.0 1253.2 L1546.2 1253.3 L1548.3 1252.4 L1550.4 1251.9 L1552.6 1250.5 L1554.9 1250.8 L1557.1 1250.5 L1559.3 1249.2 L1561.6 1248.0 L1563.8 1247.9 L1565.8 1246.4 L1567.8 1245.0 L1569.7 1244.9 L1571.7 1243.1 L1573.9 1242.5 L1576.2 1240.6 L1578.4 1239.9 L1580.6 1239.1 L1582.9 1238.3 L1585.1 1238.6 L1587.1 1237.8 L1589.0 1238.1 L1591.0 1237.1 L1593.0 1235.9 L1595.0 1236.1 L1597.0 1233.7 L1599.0 1234.7 L1601.0 1233.2 L1603.0 1233.6 L1605.0 1232.9 L1607.0 1231.1 L1609.0 1231.4 L1611.2 1233.0 L1613.5 1234.1 L1615.7 1234.0 L1618.0 1233.4 L1620.3 1231.9 L1622.7 1230.5 L1625.0 1229.8 L1627.0 1225.7 L1629.0 1219.9 L1631.0 1217.5 L1633.0 1214.6 L1635.0 1209.5 L1637.0 1205.3 L1639.7 1198.6 L1641.7 1195.7 L1643.6 1195.2 L1646.3 1197.3 L1648.3 1200.6 L1650.3 1206.6 L1653.0 1218.6 L1655.0 1221.7 L1657.0 1223.9 L1659.0 1226.8 L1661.0 1230.6 L1662.8 1230.5 L1664.5 1231.4 L1666.3 1232.4 L1668.1 1231.3 L1669.8 1231.0 L1671.6 1229.2 L1673.6 1225.2 L1675.6 1221.3 L1678.3 1219.9 L1680.3 1221.1 L1682.3 1223.9 L1684.3 1229.9 L1686.3 1234.6 L1688.9 1245.2 L1690.7 1248.2 L1692.4 1250.6 L1694.2 1253.2 L1696.0 1256.4 L1697.8 1258.4 L1699.6 1261.2 L1701.7 1262.4 L1703.8 1263.3 L1706.0 1265.5 L1708.1 1266.7 L1710.2 1267.9 L1712.3 1268.9 L1714.5 1268.4 L1716.6 1269.4 L1718.8 1269.9 L1720.9 1270.5 L1723.1 1271.0 L1725.3 1271.2 L1727.6 1272.6 L1729.8 1272.4 L1732.0 1273.6 L1734.2 1274.0 L1736.4 1273.9 L1738.6 1274.1 L1740.8 1274.6 L1743.1 1274.0 L1745.3 1274.4 L1747.5 1274.5 L1749.7 1274.3 L1751.9 1274.6 L1754.2 1274.5 L1756.4 1274.7 L1758.6 1274.1 L1760.8 1274.5 L1763.0 1275.3 L1765.3 1275.9 L1767.5 1276.4 L1769.7 1275.5 L1771.9 1275.9 L1774.1 1275.0 L1775.9 1274.3 L1777.7 1273.2 L1779.5 1271.9 L1781.5 1268.9 L1783.5 1265.2 L1786.1 1250.5 L1788.8 1239.9 L1791.5 1227.9 L1794.1 1223.9 L1796.2 1222.8 L1798.6 1227.1 L1801.3 1239.9 L1803.0 1246.6 L1804.8 1253.2 L1806.8 1259.8 L1808.8 1265.2 L1810.6 1267.5 L1812.3 1270.8 L1814.1 1273.2 L1815.9 1275.2 L1817.6 1275.8 L1819.4 1277.7 L1821.6 1278.3 L1823.8 1279.1 L1826.1 1278.8 L1828.3 1279.7 L1830.5 1280.5 L1832.7 1280.6 L1835.1 1280.6 L1837.4 1280.8 L1839.8 1281.4 L1842.2 1281.7 L1844.5 1282.0 L1846.9 1282.0 L1849.3 1281.7 L1851.6 1282.5 L1854.0 1282.5 L1855.8 1282.5 L1857.5 1282.8 L1859.3 1282.9 L1861.8 1283.1 L1864.3 1283.4 L1866.8 1283.1 L1869.3 1282.8 L1871.8 1283.1 L1874.3 1283.2 L1876.8 1283.4 L1879.2 1283.0 L1881.7 1283.3 L1884.2 1282.9 L1886.7 1283.7 L1889.2 1283.0 L1891.7 1283.4 L1894.2 1283.2 L1896.7 1283.3 L1899.2 1283.5 L1901.4 1283.6 L1903.6 1283.7 L1905.8 1284.0 L1908.1 1284.2 L1910.3 1284.6 L1912.5 1284.8 L1914.9 1285.2 L1917.4 1284.7 L1919.8 1284.8 L1922.2 1284.8 L1924.6 1285.5 L1927.1 1285.4 L1929.5 1285.6 L1931.9 1285.1 L1934.3 1285.4 L1936.8 1285.7 L1939.2 1285.6 L1941.6 1285.6 L1944.0 1285.6 L1946.5 1285.2 L1948.9 1285.6 L1951.3 1285.3 L1953.7 1285.2 L1956.1 1285.2 L1958.5 1285.0 L1961.0 1284.6 L1963.4 1284.6 L1965.8 1284.8 L1968.0 1284.7 L1970.2 1284.2 L1972.4 1284.5 L1974.7 1284.0 L1976.9 1284.3 L1979.1 1284.0 L1981.1 1283.5 L1983.1 1283.2 L1985.1 1282.4 L1987.1 1282.1 L1989.1 1281.5 L1991.1 1281.7 L1993.1 1281.6 L1995.1 1281.1 L1997.1 1281.1 L1999.1 1281.2 L2001.1 1282.2 L2003.1 1282.1 L2005.1 1282.9 L2007.1 1283.4 L2009.1 1284.0 L2011.1 1284.3 L2013.5 1284.3 L2015.8 1284.9 L2018.2 1284.9 L2020.6 1284.9 L2022.9 1285.2 L2025.3 1285.3 L2027.7 1285.1 L2030.0 1284.9 L2032.4 1285.3 L2034.8 1285.4 L2037.2 1285.4 L2039.7 1285.1 L2042.1 1285.4 L2044.5 1285.8 L2046.9 1285.7 L2049.3 1286.0 L2051.7 1285.9 L2054.2 1285.6 L2056.6 1286.0 L2059.0 1285.9 L2061.4 1285.5 L2063.8 1286.1 L2066.3 1285.6 L2068.7 1286.0 L2071.1 1285.3 L2073.5 1285.7 L2075.9 1285.2 L2078.3 1285.7 L2080.8 1285.6 L2083.2 1285.4 L2085.6 1285.3 L2088.0 1285.3 L2090.5 1285.1 L2092.9 1285.1 L2095.3 1285.0 L2097.7 1285.1 L2100.2 1284.9 L2102.6 1285.3 L2105.0 1285.1 L2107.4 1285.0 L2109.9 1285.0 L2112.3 1285.1 L2114.7 1285.4 L2117.1 1285.4 L2119.6 1285.4 L2122.0 1284.9 L2124.4 1284.7 L2126.8 1284.7 L2129.2 1285.2 L2131.6 1284.8 L2134.1 1284.6 L2136.5 1285.2 L2138.9 1284.8 L2141.3 1284.5 L2143.6 1284.6 L2146.0 1284.4 L2148.4 1284.0 L2150.7 1284.1 L2153.1 1284.3 L2155.5 1284.0 L2157.8 1284.1 L2160.2 1283.7 L2162.4 1283.2 L2164.6 1283.1 L2166.8 1283.2 L2169.1 1283.3 L2171.3 1283.0 L2173.5 1282.9 L2175.6 1282.9 L2177.8 1283.5 L2179.9 1283.7 L2182.1 1283.7 L2184.2 1283.7 L2186.4 1283.7 L2188.6 1284.5 L2190.8 1284.7 L2193.1 1285.1 L2195.3 1285.5 L2197.5 1285.6 L2200.0 1285.7 L2202.4 1285.7 L2204.9 1286.1 L2207.4 1286.2 L2209.9 1286.3 L2212.3 1285.9 L2214.8 1285.9 L2217.3 1286.0 L2219.7 1286.4 L2222.2 1286.7 L2224.7 1286.3 L2227.2 1286.5 L2229.6 1286.7 L2232.1 1286.7 L2234.5 1286.6 L2236.9 1286.6 L2239.4 1286.4 L2241.8 1286.5 L2244.2 1286.7 L2246.6 1286.5 L2249.0 1286.5 L2251.4 1286.1 L2253.9 1285.8 L2256.3 1285.8 L2258.7 1285.9 L2261.1 1285.8 L2263.6 1286.2 L2266.0 1285.8 L2268.4 1286.1 L2270.8 1286.4 L2273.3 1286.1 L2275.7 1286.0 L2278.1 1286.5 L2280.5 1286.6 L2283.0 1286.0 L2285.4 1286.4 L2287.9 1286.6 L2290.5 1286.7 L2293.0 1286.2 L2295.5 1286.2 L2298.1 1286.1 L2300.6 1286.1 L2303.1 1286.4 L2305.7 1286.2 L2308.2 1286.0 L2310.7 1286.1 L2313.3 1286.4 L2315.8 1286.5 L2318.3 1286.0 L2320.9 1285.9 L2323.4 1285.9 L2325.9 1286.2 L2328.5 1286.3 L2331.0 1285.8 L2333.5 1285.7 L2336.1 1285.8 L2338.6 1285.9 L2341.1 1286.2 L2343.5 1286.2 L2346.0 1286.3 L2348.4 1285.9 L2350.9 1285.6 L2353.4 1285.7 L2355.8 1286.2 L2358.3 1285.9 L2360.8 1285.8 L2363.2 1285.9 L2365.7 1285.8 L2368.1 1286.4 L2370.6 1286.1"/>
<path class="sp" d="M1400.0 1354.4 L1402.2 1352.1 L1404.4 1349.9 L1406.6 1347.7 L1408.8 1344.1 L1411.1 1341.5 L1413.3 1338.4 L1415.1 1334.9 L1416.8 1333.0 L1418.6 1329.1 L1420.4 1328.5 L1422.1 1326.9 L1423.9 1325.1 L1425.9 1324.2 L1427.9 1323.0 L1429.7 1324.6 L1431.5 1324.4 L1433.3 1326.4 L1435.5 1328.4 L1437.7 1331.6 L1439.9 1333.1 L1441.7 1335.6 L1443.4 1336.7 L1445.2 1339.0 L1447.4 1339.5 L1449.7 1339.8 L1451.9 1341.1 L1454.1 1340.6 L1456.4 1342.3 L1458.6 1341.9 L1460.8 1343.3 L1463.0 1346.2 L1465.2 1347.7 L1467.0 1349.5 L1468.7 1352.1 L1470.5 1354.4 L1472.3 1356.1 L1474.1 1357.2 L1475.9 1359.2 L1477.7 1355.7 L1479.9 1361.1 L1482.1 1359.0 L1484.3 1357.1 L1486.5 1355.7 L1488.3 1353.3 L1490.1 1352.0 L1491.9 1350.4 L1493.8 1347.6 L1495.8 1343.8 L1497.6 1342.5 L1499.4 1341.9 L1501.2 1341.1 L1503.0 1340.9 L1504.7 1341.1 L1506.5 1341.1 L1508.3 1342.4 L1510.0 1343.9 L1511.8 1346.4 L1514.0 1347.9 L1516.3 1350.6 L1518.5 1351.7 L1520.7 1353.1 L1522.9 1354.3 L1525.1 1355.7 L1527.3 1355.0 L1529.6 1355.1 L1531.8 1354.4 L1534.1 1354.1 L1536.4 1354.8 L1538.8 1354.8 L1541.1 1354.9 L1543.3 1355.5 L1545.6 1357.2 L1547.8 1358.4 L1549.8 1359.5 L1551.8 1360.5 L1553.8 1362.3 L1555.8 1363.7 L1557.8 1364.4 L1559.8 1365.3 L1561.8 1366.9 L1563.8 1367.7 L1565.8 1368.2 L1567.8 1368.4 L1569.7 1369.1 L1571.7 1369.3 L1573.8 1370.0 L1576.0 1369.8 L1578.1 1370.3 L1580.3 1370.9 L1582.4 1370.9 L1584.5 1370.8 L1586.6 1371.0 L1588.8 1371.1 L1590.9 1371.0 L1593.0 1371.2 L1595.0 1370.7 L1597.0 1370.4 L1599.0 1370.0 L1601.0 1369.1 L1603.2 1367.5 L1605.5 1365.8 L1607.7 1364.5 L1609.9 1362.3 L1612.2 1359.8 L1614.4 1357.1 L1616.2 1352.8 L1617.9 1349.0 L1619.7 1345.1 L1621.7 1339.3 L1623.7 1334.4 L1626.3 1319.8 L1629.0 1317.1 L1631.7 1305.1 L1633.7 1303.9 L1635.7 1302.5 L1638.3 1297.7 L1640.3 1297.3 L1642.3 1298.5 L1645.0 1306.5 L1647.6 1314.5 L1649.6 1321.6 L1651.6 1330.4 L1653.6 1336.7 L1655.6 1343.8 L1657.6 1349.9 L1659.6 1357.1 L1661.4 1360.0 L1663.2 1363.1 L1665.0 1366.4 L1667.0 1367.7 L1669.0 1369.7 L1670.9 1371.1 L1672.9 1372.3 L1675.1 1372.3 L1677.4 1373.1 L1679.6 1372.9 L1681.8 1372.8 L1684.1 1373.4 L1686.3 1373.6 L1688.7 1373.4 L1691.1 1373.7 L1693.6 1374.4 L1696.0 1374.2 L1698.4 1374.7 L1700.8 1374.4 L1703.2 1374.5 L1705.6 1374.5 L1708.1 1374.7 L1710.5 1375.3 L1712.9 1375.2 L1715.3 1375.4 L1717.7 1375.8 L1720.2 1375.7 L1722.6 1376.1 L1725.0 1376.3 L1727.4 1375.9 L1729.8 1376.5 L1732.2 1376.2 L1734.7 1376.6 L1737.1 1376.6 L1739.5 1377.0 L1741.7 1377.2 L1743.9 1376.9 L1746.2 1377.0 L1748.4 1377.6 L1750.6 1377.6 L1752.8 1377.6 L1755.2 1377.9 L1757.7 1377.9 L1760.1 1377.8 L1762.5 1377.8 L1764.9 1377.4 L1767.4 1377.6 L1769.8 1377.6 L1772.2 1377.5 L1774.6 1377.6 L1777.1 1377.6 L1779.5 1377.6 L1781.9 1377.6 L1784.3 1377.2 L1786.8 1377.2 L1789.2 1377.6 L1791.6 1377.6 L1794.0 1377.1 L1796.4 1376.9 L1798.8 1377.0 L1801.3 1377.4 L1803.7 1377.0 L1806.1 1377.0 L1808.3 1377.0 L1810.5 1376.4 L1812.7 1375.8 L1814.9 1375.9 L1817.1 1375.1 L1819.3 1375.1 L1821.5 1374.9 L1823.7 1374.8 L1825.9 1374.2 L1828.2 1374.0 L1830.4 1373.3 L1832.6 1373.0 L1834.7 1372.6 L1836.9 1372.8 L1839.0 1373.3 L1841.2 1373.2 L1843.3 1373.0 L1845.4 1373.5 L1847.5 1373.6 L1849.7 1374.2 L1851.8 1374.9 L1853.9 1375.1 L1856.0 1375.2 L1858.2 1376.3 L1860.3 1376.1 L1862.5 1377.0 L1864.6 1377.3 L1867.0 1377.0 L1869.3 1377.7 L1871.7 1377.3 L1874.1 1377.6 L1876.4 1377.2 L1878.8 1377.8 L1881.2 1378.1 L1883.5 1377.6 L1885.9 1377.8 L1888.4 1378.1 L1891.0 1377.6 L1893.5 1377.5 L1896.1 1378.0 L1898.6 1377.7 L1901.1 1378.0 L1903.7 1377.6 L1906.2 1377.6 L1908.7 1377.8 L1911.3 1378.0 L1913.8 1377.8 L1916.4 1377.7 L1918.9 1377.7 L1921.4 1377.9 L1924.0 1377.7 L1926.5 1378.1 L1929.0 1377.7 L1931.6 1378.1 L1934.1 1377.9 L1936.7 1377.8 L1939.2 1378.1 L1941.7 1377.7 L1944.3 1378.1 L1946.8 1378.1 L1949.3 1377.7 L1951.9 1378.0 L1954.4 1377.6 L1956.9 1377.8 L1959.5 1378.0 L1962.0 1377.5 L1964.5 1377.7 L1967.1 1378.0 L1969.6 1377.5 L1972.1 1377.8 L1974.7 1377.3 L1977.2 1377.4 L1979.7 1377.7 L1982.3 1377.7 L1984.8 1377.3 L1987.3 1377.3 L1989.9 1377.2 L1992.4 1377.3 L1994.7 1376.9 L1997.0 1376.9 L1999.3 1377.1 L2001.5 1376.7 L2003.8 1376.8 L2006.1 1376.4 L2008.4 1376.2 L2010.7 1376.3 L2013.0 1376.2 L2015.3 1376.0 L2017.5 1376.2 L2019.8 1376.1 L2022.1 1376.0 L2024.4 1376.2 L2026.7 1376.2 L2029.0 1376.9 L2031.3 1377.1 L2033.5 1377.3 L2035.8 1377.2 L2038.1 1377.1 L2040.4 1377.5 L2042.9 1377.4 L2045.3 1377.4 L2047.8 1378.0 L2050.2 1377.9 L2052.7 1377.9 L2055.1 1377.8 L2057.6 1377.8 L2060.0 1378.0 L2062.5 1378.2 L2064.9 1378.1 L2067.4 1378.3 L2069.8 1378.1 L2072.3 1378.1 L2074.9 1378.3 L2077.5 1378.2 L2080.0 1378.1 L2082.6 1378.3 L2085.2 1378.1 L2087.8 1378.3 L2090.3 1377.9 L2092.9 1378.4 L2095.5 1378.3 L2098.1 1377.9 L2100.7 1378.2 L2103.2 1377.9 L2105.8 1377.8 L2108.4 1377.8 L2111.0 1378.1 L2113.5 1378.4 L2116.1 1377.9 L2118.7 1378.1 L2121.3 1378.1 L2123.8 1377.9 L2126.4 1378.2 L2129.0 1378.0 L2131.6 1377.8 L2134.2 1378.4 L2136.7 1378.3 L2139.3 1377.8 L2141.9 1378.1 L2144.5 1378.0 L2147.0 1378.2 L2149.6 1378.0 L2152.2 1378.1 L2154.8 1378.3 L2157.4 1377.8 L2159.9 1378.4 L2162.5 1378.3 L2165.1 1378.1 L2167.7 1378.4 L2170.2 1378.4 L2172.8 1378.1 L2175.4 1378.0 L2178.0 1378.4 L2180.6 1378.2 L2183.1 1378.6 L2185.7 1378.1 L2188.3 1378.6 L2190.9 1378.6 L2193.4 1378.1 L2196.0 1378.2 L2198.6 1378.5 L2201.2 1378.3 L2203.7 1378.4 L2206.3 1378.5 L2208.9 1378.4 L2211.5 1378.2 L2214.1 1378.3 L2216.6 1378.7 L2219.2 1378.7 L2221.8 1378.3 L2224.4 1378.7 L2226.9 1378.8 L2229.5 1378.7 L2232.1 1378.6 L2234.5 1378.9 L2236.9 1378.5 L2239.4 1378.4 L2241.8 1378.2 L2244.2 1378.3 L2246.6 1378.3 L2249.0 1378.4 L2251.4 1377.8 L2253.9 1377.8 L2256.3 1378.2 L2258.7 1377.8 L2261.1 1378.0 L2263.5 1377.9 L2265.9 1378.1 L2268.3 1377.9 L2270.7 1378.1 L2273.1 1378.1 L2275.5 1378.7 L2277.9 1378.3 L2280.3 1378.6 L2282.7 1378.8 L2285.1 1378.6 L2287.6 1378.8 L2290.0 1378.2 L2292.5 1378.1 L2294.9 1378.2 L2297.3 1378.3 L2299.8 1378.1 L2302.2 1377.8 L2304.7 1377.9 L2307.1 1377.8 L2309.6 1378.0 L2312.0 1377.8 L2314.5 1378.0 L2317.1 1377.5 L2319.6 1378.0 L2322.2 1377.5 L2324.7 1377.7 L2327.3 1377.7 L2329.8 1377.5 L2332.4 1377.5 L2334.9 1378.0 L2337.5 1377.9 L2340.0 1378.0 L2342.6 1378.1 L2345.1 1378.1 L2347.7 1377.7 L2350.2 1377.9 L2352.8 1377.9 L2355.3 1377.6 L2357.9 1378.0 L2360.4 1378.1 L2363.0 1377.9 L2365.5 1378.0 L2368.1 1377.6 L2370.6 1377.8"/>
<path class="sp" d="M1451.9 1402.9 L1454.0 1410.3 L1455.6 1413.9 L1457.2 1415.1 L1459.9 1417.0 L1461.7 1416.1 L1463.4 1415.8 L1465.2 1416.2 L1467.2 1414.2 L1469.2 1411.7 L1471.2 1414.1 L1473.2 1415.7 L1475.2 1417.6 L1477.2 1419.7 L1479.1 1415.7 L1480.8 1418.8 L1482.5 1419.7 L1484.5 1421.8 L1486.5 1422.3 L1488.3 1423.7 L1490.1 1426.2 L1491.9 1426.3 L1493.7 1426.9 L1495.4 1427.8 L1497.2 1429.0 L1499.0 1431.5 L1500.7 1430.6 L1502.5 1432.2 L1504.5 1429.8 L1506.5 1429.5 L1508.5 1431.9 L1510.5 1432.2 L1512.5 1431.8 L1514.5 1430.3 L1516.2 1432.4 L1517.9 1435.6 L1521.1 1431.6 L1523.1 1431.5 L1525.1 1429.5 L1526.8 1427.8 L1528.6 1425.0 L1530.2 1427.5 L1531.8 1430.3 L1533.8 1431.0 L1535.8 1431.6 L1537.8 1431.6 L1539.8 1429.0 L1541.4 1425.8 L1543.0 1422.3 L1544.7 1421.7 L1546.4 1423.6 L1548.4 1424.8 L1550.4 1426.3 L1552.4 1427.7 L1554.4 1430.3 L1556.4 1433.0 L1558.4 1433.0 L1560.2 1433.7 L1562.0 1434.5 L1563.8 1435.6 L1565.6 1437.0 L1567.3 1437.6 L1569.1 1437.5 L1571.1 1433.4 L1573.1 1431.6 L1575.7 1443.6 L1577.7 1445.4 L1579.7 1446.3 L1581.7 1446.4 L1583.7 1444.4 L1585.7 1446.8 L1587.7 1448.9 L1589.5 1450.2 L1591.2 1453.4 L1593.0 1454.3 L1595.0 1454.8 L1597.0 1456.9 L1599.0 1457.7 L1601.0 1459.6 L1602.8 1458.2 L1604.6 1456.4 L1606.4 1455.1 L1608.2 1456.0 L1609.9 1454.6 L1611.7 1455.6 L1613.7 1455.8 L1615.7 1456.1 L1618.3 1462.8 L1620.1 1461.6 L1621.9 1460.5 L1623.7 1460.4 L1625.5 1460.3 L1627.2 1459.3 L1629.0 1458.3 L1631.0 1458.7 L1633.0 1459.6 L1635.0 1460.3 L1637.0 1460.9 L1639.2 1458.6 L1641.4 1455.6 L1643.6 1454.3 L1645.4 1454.4 L1647.2 1454.2 L1649.0 1455.6 L1651.6 1459.6 L1653.4 1458.4 L1655.2 1459.4 L1657.0 1458.3 L1658.8 1459.7 L1660.5 1459.7 L1662.3 1460.9 L1664.7 1457.1 L1667.1 1455.1 L1668.7 1457.4 L1670.3 1458.3 L1672.3 1458.2 L1674.3 1459.6 L1676.3 1460.9 L1678.3 1463.1 L1680.1 1463.0 L1681.8 1461.8 L1683.6 1460.9 L1685.4 1461.0 L1687.1 1461.8 L1688.9 1461.5 L1690.7 1462.7 L1692.4 1462.5 L1694.2 1462.8 L1696.2 1462.3 L1698.2 1460.4 L1700.2 1462.6 L1702.2 1466.3 L1704.2 1465.0 L1706.2 1463.6 L1708.2 1464.6 L1710.2 1464.9 L1712.2 1463.5 L1714.2 1460.9 L1716.2 1463.3 L1718.2 1465.7 L1720.2 1466.2 L1722.2 1466.3 L1724.2 1463.2 L1726.2 1460.9 L1728.2 1462.6 L1730.2 1463.6 L1732.2 1464.4 L1734.2 1464.9 L1736.4 1463.1 L1738.7 1459.6 L1740.9 1456.9 L1742.8 1458.7 L1744.8 1461.7 L1746.6 1461.9 L1748.4 1461.1 L1750.2 1460.9 L1752.0 1460.7 L1753.7 1462.6 L1755.5 1462.3 L1757.3 1462.6 L1759.0 1462.3 L1760.8 1463.1 L1762.6 1463.8 L1764.4 1465.2 L1766.2 1466.8 L1768.4 1466.4 L1770.6 1465.2 L1772.8 1463.6 L1774.6 1465.1 L1776.3 1468.4 L1778.1 1470.3 L1779.9 1469.2 L1781.7 1468.4 L1783.5 1467.6 L1785.7 1467.7 L1787.9 1466.7 L1790.1 1466.8 L1792.1 1464.9 L1794.1 1463.6 L1796.1 1468.3 L1798.1 1471.6 L1800.1 1469.4 L1802.1 1466.3 L1804.1 1470.1 L1806.1 1472.9 L1807.8 1471.7 L1809.6 1470.5 L1811.3 1468.3 L1813.1 1468.3 L1814.9 1468.0 L1816.7 1467.3 L1818.5 1468.5 L1820.2 1470.6 L1822.0 1471.8 L1823.8 1472.0 L1825.5 1471.0 L1827.3 1470.5 L1829.1 1470.6 L1830.8 1469.6 L1832.6 1469.9 L1834.4 1470.9 L1836.2 1472.1 L1838.0 1473.1 L1839.8 1472.3 L1841.5 1470.9 L1843.3 1469.7 L1845.1 1469.0 L1846.8 1469.7 L1848.6 1468.6 L1850.4 1469.6 L1852.1 1470.2 L1853.9 1471.8 L1855.7 1471.6 L1857.5 1470.3 L1859.3 1469.9 L1861.5 1470.9 L1863.7 1470.0 L1865.9 1471.0 L1867.9 1470.1 L1869.8 1468.8 L1871.8 1467.3 L1874.2 1469.5 L1876.6 1471.0 L1878.8 1470.6 L1881.0 1471.5 L1883.2 1471.8 L1885.0 1471.4 L1886.8 1470.7 L1888.6 1470.5 L1890.6 1472.4 L1892.6 1475.3 L1894.4 1473.8 L1896.1 1471.9 L1897.9 1470.5 L1900.1 1470.9 L1902.3 1469.6 L1904.5 1469.7 L1906.5 1470.4 L1908.5 1471.6 L1910.5 1471.8 L1912.5 1473.1 L1914.3 1471.6 L1916.1 1470.4 L1917.9 1469.9 L1919.7 1471.0 L1921.4 1471.6 L1923.2 1471.8 L1925.6 1473.3 L1928.0 1475.8 L1930.2 1472.6 L1932.5 1469.9 L1934.5 1470.4 L1936.5 1470.5 L1938.9 1468.8 L1941.3 1468.3 L1943.5 1470.1 L1945.8 1473.1 L1947.6 1472.9 L1949.3 1473.9 L1951.1 1473.7 L1953.3 1472.7 L1955.6 1472.8 L1957.8 1471.8 L1959.6 1471.6 L1961.3 1472.5 L1963.1 1472.6 L1965.1 1471.9 L1967.0 1471.0 L1969.0 1469.9 L1971.4 1471.8 L1973.8 1474.5 L1975.8 1473.5 L1977.8 1472.2 L1979.8 1471.3 L1981.8 1470.5 L1983.8 1470.4 L1985.8 1471.3 L1987.8 1470.4 L1989.8 1471.0 L1991.8 1471.5 L1993.8 1472.7 L1995.7 1472.5 L1997.7 1473.7 L1999.7 1474.3 L2001.7 1474.6 L2003.7 1474.5 L2005.7 1474.5 L2007.7 1474.4 L2009.7 1473.1 L2011.7 1472.8 L2013.7 1471.8 L2015.5 1473.9 L2017.2 1474.8 L2019.0 1476.3 L2021.0 1475.4 L2023.0 1475.3 L2025.0 1474.1 L2027.0 1473.1 L2029.1 1472.8 L2031.3 1472.4 L2033.4 1472.6 L2035.6 1472.7 L2037.7 1471.8 L2039.5 1472.7 L2041.2 1473.6 L2043.0 1474.5 L2044.8 1475.6 L2046.5 1476.2 L2048.3 1477.9 L2050.5 1476.0 L2052.8 1473.6 L2055.0 1471.0 L2056.8 1472.6 L2058.5 1474.1 L2060.3 1475.3 L2062.3 1475.3 L2064.3 1474.4 L2066.3 1474.2 L2068.3 1473.7 L2070.5 1473.2 L2072.8 1473.4 L2075.0 1473.1 L2076.8 1472.6 L2078.5 1471.8 L2080.3 1471.0 L2082.1 1472.2 L2083.8 1473.9 L2085.6 1475.8 L2087.8 1473.0 L2090.1 1471.2 L2092.3 1469.1 L2094.5 1470.5 L2096.7 1471.6 L2098.9 1473.1 L2101.1 1473.5 L2103.4 1473.4 L2105.6 1473.7 L2107.6 1472.5 L2109.6 1471.0 L2111.6 1470.3 L2113.6 1469.1 L2115.6 1472.1 L2117.6 1475.8 L2119.6 1472.8 L2121.6 1470.5 L2123.8 1470.8 L2126.0 1471.6 L2128.2 1471.8 L2130.4 1471.2 L2132.7 1470.2 L2134.9 1469.9 L2137.1 1470.4 L2139.4 1470.9 L2141.6 1471.0 L2143.6 1471.1 L2145.6 1471.5 L2147.5 1473.1 L2149.5 1473.1 L2151.5 1473.2 L2153.5 1473.9 L2155.5 1474.1 L2157.5 1474.5 L2159.5 1474.8 L2161.5 1474.9 L2163.5 1475.1 L2165.5 1475.8 L2167.5 1475.5 L2169.5 1475.0 L2171.5 1474.8 L2173.5 1473.7 L2175.5 1473.5 L2177.5 1473.9 L2179.5 1473.3 L2181.5 1473.1 L2183.5 1473.4 L2185.5 1472.0 L2187.5 1471.9 L2189.5 1471.8 L2191.5 1472.5 L2193.5 1472.3 L2195.5 1472.9 L2197.5 1473.1 L2199.4 1474.9 L2201.4 1475.4 L2203.3 1477.1 L2205.7 1474.6 L2208.1 1473.1 L2210.1 1472.3 L2212.1 1473.0 L2214.1 1473.3 L2216.1 1472.6 L2218.3 1470.8 L2220.6 1469.7 L2222.8 1468.3 L2225.0 1470.3 L2227.2 1472.4 L2229.4 1474.5 L2231.2 1473.6 L2233.0 1472.4 L2234.8 1470.5 L2236.8 1470.9 L2238.8 1471.1 L2240.8 1472.0 L2242.8 1471.8 L2244.8 1471.4 L2246.8 1470.9 L2248.7 1470.8 L2250.7 1470.5 L2252.5 1469.8 L2254.3 1468.3 L2256.1 1467.8 L2257.9 1466.6 L2259.6 1464.4 L2261.4 1463.0 L2263.2 1461.6 L2264.9 1462.1 L2266.7 1461.1 L2268.9 1463.6 L2271.2 1465.4 L2273.4 1466.5 L2275.6 1469.4 L2277.8 1470.3 L2280.0 1473.1 L2281.8 1472.7 L2283.6 1471.5 L2285.4 1469.9 L2287.6 1470.3 L2289.8 1468.9 L2292.1 1469.7 L2294.3 1468.9 L2296.5 1469.8 L2298.7 1469.1 L2300.8 1469.3 L2302.9 1469.6 L2305.1 1470.8 L2307.2 1471.5 L2309.3 1471.8 L2311.5 1472.1 L2313.7 1472.1 L2315.9 1471.9 L2318.2 1473.0 L2320.4 1472.2 L2322.6 1473.1 L2324.7 1472.7 L2326.9 1471.5 L2329.0 1471.5 L2331.2 1471.1 L2333.3 1470.5 L2335.3 1470.5 L2337.3 1471.5 L2339.3 1471.1 L2341.3 1471.8 L2343.3 1471.3 L2345.3 1469.6 L2347.3 1469.1 L2349.3 1467.8 L2351.5 1467.3 L2353.7 1466.7 L2355.9 1466.5 L2357.9 1467.2 L2359.9 1469.1 L2361.7 1467.9 L2363.5 1465.7 L2365.3 1465.1 L2367.1 1466.1 L2368.8 1467.1 L2370.6 1468.3"/>
</g>
<rect x="1396.8" y="24.3" width="977.5" height="1491.7" fill="none" stroke="#000" stroke-width="6"/>
<line x1="1599.0" y1="1514" x2="1599.0" y2="1489" stroke="#000" stroke-width="5.8"/>
<line x1="1936.0" y1="1514" x2="1936.0" y2="1489" stroke="#000" stroke-width="5.8"/>
<line x1="2273.0" y1="1514" x2="2273.0" y2="1489" stroke="#000" stroke-width="5.8"/>
<line x1="1431.0" y1="1514" x2="1431.0" y2="1502.4" stroke="#000" stroke-width="5.8"/>
<line x1="1767.5" y1="1514" x2="1767.5" y2="1502.4" stroke="#000" stroke-width="5.8"/>
<line x1="2104.5" y1="1514" x2="2104.5" y2="1502.4" stroke="#000" stroke-width="5.8"/>
<text transform="translate(1599.30 1603.30) scale(1 1.0450)" font-size="76.3" text-anchor="middle">1.550</text>
<text transform="translate(1936.30 1603.30) scale(1 1.0450)" font-size="76.3" text-anchor="middle">1.555</text>
<text transform="translate(2273.30 1603.30) scale(1 1.0450)" font-size="76.3" text-anchor="middle">1.560</text>
<text transform="translate(0 1712.7) scale(1 1.015)" x="1739.8 1798.5 1822.7 1848.2 1898.4 1957.7" y="0" font-size="88">E [eV]</text>
<text transform="translate(1350.90 990.70) rotate(-90)" font-size="88.7">Intensity [a.u.]</text>
<text class="b" x="1414.5" y="116" font-size="87.5">(c)</text>
<text transform="translate(2150.50 571.90) scale(1 1.0450)" font-size="50.6" class="b">U = 1.0 V</text>
<text transform="translate(2149.20 973.30) scale(1 1.0450)" font-size="50.6" class="b">U = 0.8 V</text>
<text transform="translate(2150.50 1169.60) scale(1 1.0450)" font-size="50.6" class="b">U = 0.6 V</text>
<text transform="translate(2151.30 1274.00) scale(1 1.0450)" font-size="50.6" class="b">U = 0.4 V</text>
<text transform="translate(2152.40 1370.60) scale(1 1.0450)" font-size="50.9" class="b">U = 0.2 V</text>
<text transform="translate(2064.50 1459.20) scale(1 1.0450)" font-size="50.4" class="b">U = 0 V (x10)</text>
<text transform="translate(1862.00 91.00) scale(1 1.0300)" font-size="50" class="b" text-anchor="middle">X</text>
<text transform="translate(1863.20 668.50) scale(1 1.0300)" font-size="50" class="b" text-anchor="middle">X</text>
<text transform="translate(1858.00 1109.60) scale(1 1.0300)" font-size="50" class="b" text-anchor="middle">X</text>
<text transform="translate(1829.00 1244.00) scale(1 1.0300)" font-size="50" class="b" text-anchor="middle">X</text>
<text transform="translate(1675.80 1325.10) scale(1 1.0300)" font-size="45.5" class="b" text-anchor="middle">X</text>
<text transform="translate(1589.50 1432.00) scale(1 1.0300)" font-size="50" class="b" text-anchor="middle">X</text>
</g>
</svg>
</body>
</html>
